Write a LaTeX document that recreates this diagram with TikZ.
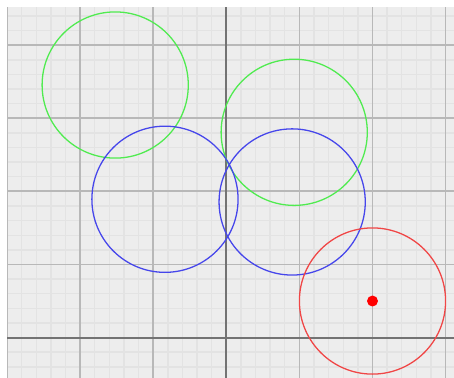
\documentclass[tikz,border=0pt]{standalone}
\begin{document}
\begin{tikzpicture}[
  minorgrid/.style={draw=black!11, line width=0.55pt},
  majorgrid/.style={draw=black!28, line width=0.7pt},
  axisline/.style={draw=black!55, line width=0.75pt},
  ring/.style={line width=0.5pt}]
\useasboundingbox (-3.096,-0.553) rectangle (3.115,4.618);
\fill[white] (-3.096,-0.553) rectangle (3.115,4.618);
\begin{scope}
\clip (-3,-0.553) rectangle (3.115,4.52);
\fill[black!7] (-3,-0.553) rectangle (3.115,4.52);
\draw[minorgrid] (-3,-1) grid[step=0.2] (3.2,4.6);
\draw[majorgrid] (-3,-1) grid[step=1] (3.2,4.6);
\draw[axisline] (-3.2,0) -- (3.2,0);
\draw[axisline] (0,-1) -- (0,4.6);
\end{scope}
\draw[ring, draw={rgb,255:red,80;green,235;blue,80}] (-1.52,3.455) circle (1);
\draw[ring, draw={rgb,255:red,80;green,235;blue,80}] (0.929,2.808) circle (1);
\draw[ring, draw={rgb,255:red,70;green,70;blue,235}] (-0.839,1.892) circle (1);
\draw[ring, draw={rgb,255:red,70;green,70;blue,235}] (0.901,1.855) circle (1);
\draw[ring, draw={rgb,255:red,240;green,70;blue,70}] (2,0.5) circle (1);
\fill[red] (2,0.5) circle (0.075);
\end{tikzpicture}
\end{document}
